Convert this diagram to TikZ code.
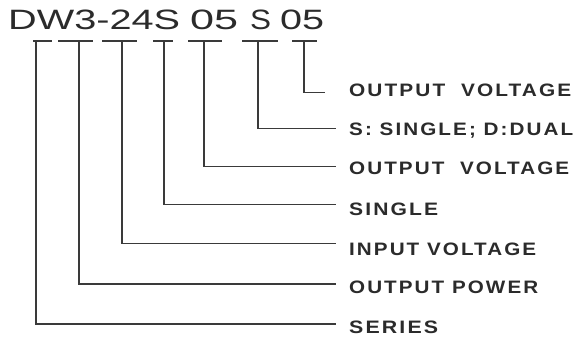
\documentclass[tikz,border=0pt]{standalone}
\usepackage{fontspec}
\usepackage{graphicx}
\setmainfont{Liberation Sans}
\newfontfamily\lblfont[LetterSpace=10]{Liberation Sans Bold}
\definecolor{ink}{HTML}{2B2B2B}
\definecolor{wire}{HTML}{3A3A3A}
\newcommand{\fitw}[2]{\resizebox{#1}{\height}{#2}}
\begin{document}
\begin{tikzpicture}[x=1pt,y=-1pt,
  title/.style={inner sep=0pt,anchor=base west,text=ink,font=\fontsize{28}{30}\selectfont},
  lbl/.style={inner sep=0pt,anchor=base west,text=ink,font=\fontsize{18}{20}\lblfont},
  wire/.style={draw=wire,line width=1.1pt},
  bar/.style={draw=wire,line width=1.1pt}]
\useasboundingbox[fill=white] (0,0) rectangle (576,343);
% title
\node[title] (g1) at (8,29.5) {\fitw{172pt}{DW3-24S}};
\node[title] (g2) at (190,29.5) {\fitw{48pt}{05}};
\node[title] (g3) at (250,29.5) {\fitw{21pt}{S}};
\node[title] (g4) at (280,29.5) {\fitw{44pt}{05}};
% bars under title
\foreach \i/\a/\b/\v in {1/33/52/36,2/58/93/79,3/102/137/122,4/153/173/164,5/188/222/204,6/242/278/258,7/292/317/304}{
  \coordinate (bl\i) at (\a,41);
  \coordinate (br\i) at (\b,41);
  \coordinate (t\i) at (\v,41);
  \draw[bar] (bl\i) -- (br\i);
}
% line ends
\coordinate (e1) at (336,324);
\coordinate (e2) at (336,284);
\coordinate (e3) at (336,243.3);
\coordinate (e4) at (336,204.3);
\coordinate (e5) at (336,166.8);
\coordinate (e6) at (336,128.3);
\coordinate (e7) at (325,92.3);
\foreach \i in {1,...,7}{\draw[wire] (t\i) |- (e\i);}
% labels
\node[lbl] (l7) at (349,96.5) {\fitw{222pt}{OUTPUT\ \ VOLTAGE}};
\node[lbl] (l6) at (349,135.5) {\fitw{224pt}{S: SINGLE; D:DUAL}};
\node[lbl] (l5) at (349,174.5) {\fitw{220pt}{OUTPUT\ \ VOLTAGE}};
\node[lbl] (l4) at (349,215) {\fitw{89pt}{SINGLE}};
\node[lbl] (l3) at (349,255) {\fitw{187pt}{INPUT VOLTAGE}};
\node[lbl] (l2) at (349,293.5) {\fitw{189pt}{OUTPUT POWER}};
\node[lbl] (l1) at (349,333.5) {\fitw{89pt}{SERIES}};
\end{tikzpicture}
\end{document}
